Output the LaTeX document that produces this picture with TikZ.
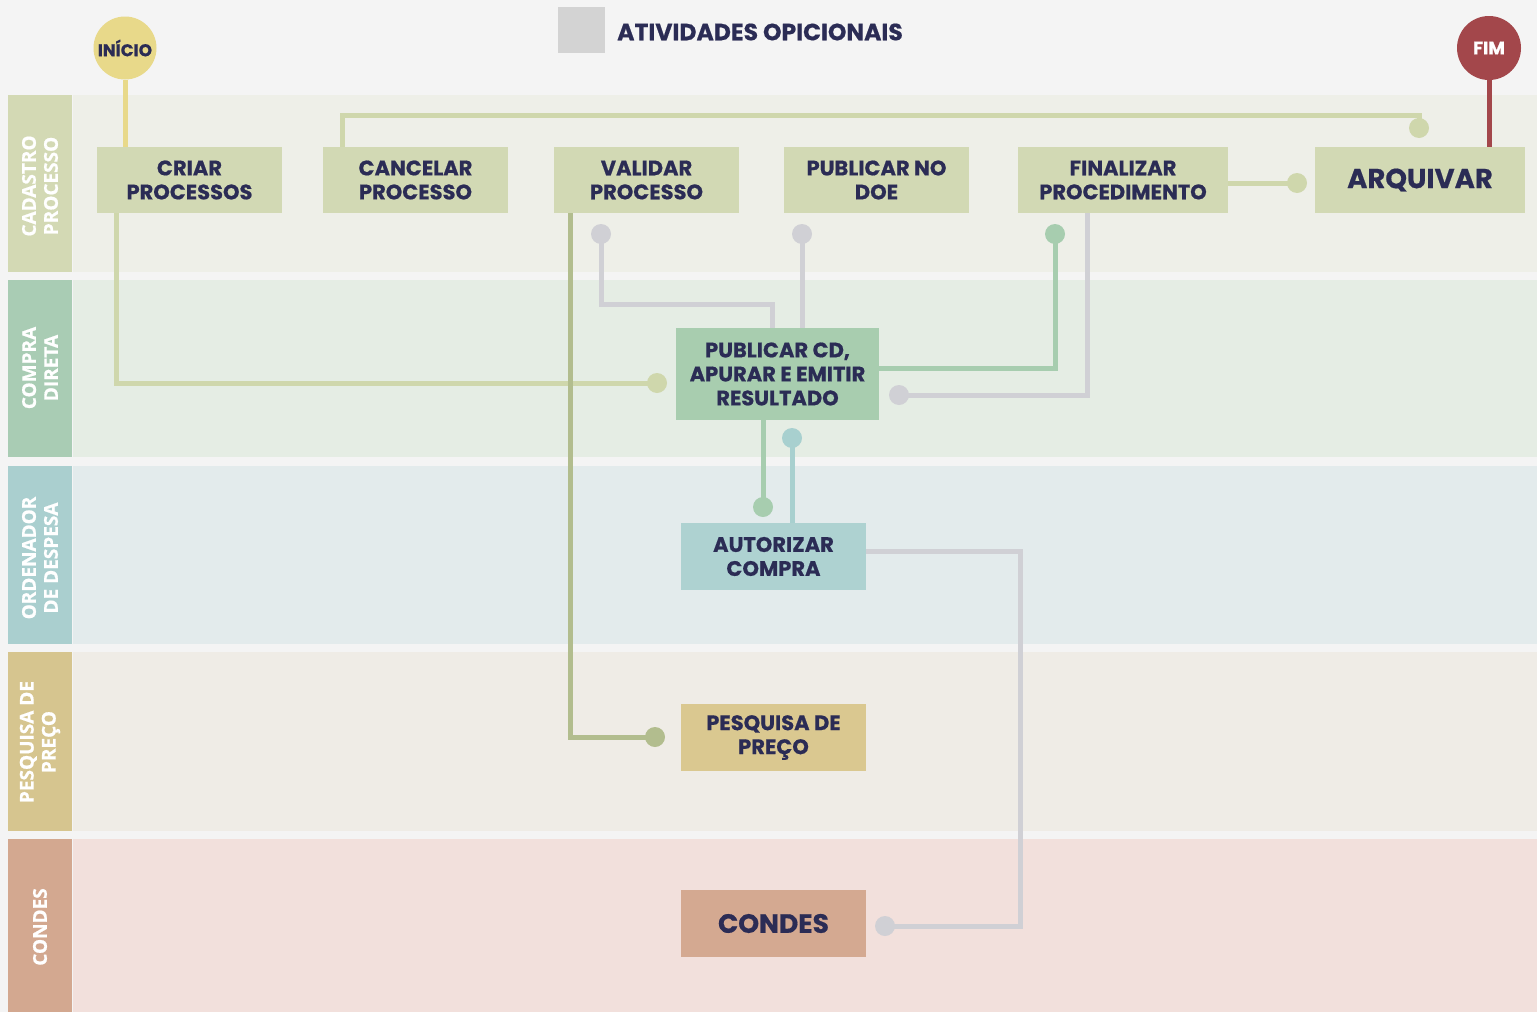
\documentclass[tikz,border=0pt]{standalone}
\usepackage{fontspec}
\setmainfont{Poppins}[BoldFeatures={FakeBold=0.6}]
\newfontfamily\lanefont{Open Sans}[BoldFeatures={FakeBold=0.8}]
\usetikzlibrary{calc}
\pgfdeclarelayer{lanes}\pgfdeclarelayer{wires}
\pgfsetlayers{lanes,wires,main}
\definecolor{bgc}{HTML}{F4F4F4}
\definecolor{laneAbg}{HTML}{EEEFE8}\definecolor{laneAlab}{HTML}{D3D9B4}
\definecolor{laneBbg}{HTML}{E5EDE4}\definecolor{laneBlab}{HTML}{A9CCB4}
\definecolor{laneCbg}{HTML}{E3EBEC}\definecolor{laneClab}{HTML}{AACFCF}
\definecolor{laneDbg}{HTML}{EFECE6}\definecolor{laneDlab}{HTML}{D6C58F}
\definecolor{laneEbg}{HTML}{F2E0DC}\definecolor{laneElab}{HTML}{D3A890}
\definecolor{fcad}{HTML}{D2D9B4}
\definecolor{fcd}{HTML}{A8CDAF}
\definecolor{faut}{HTML}{AED2D1}
\definecolor{fpesq}{HTML}{DAC890}
\definecolor{fcondes}{HTML}{D4A991}
\definecolor{txt}{HTML}{2B2C55}
\definecolor{cyel}{HTML}{E8D98A}
\definecolor{colive}{HTML}{CFD7AC}
\definecolor{cdolive}{HTML}{B2BD8E}
\definecolor{cgrey}{HTML}{D0D0D5}
\definecolor{cgreen}{HTML}{A7CDAF}
\definecolor{cblue}{HTML}{A8D0CF}
\definecolor{cred}{HTML}{A3474B}
\definecolor{legendgrey}{HTML}{D3D3D3}
\begin{document}
\begin{tikzpicture}[x=1pt,y=-1pt,
  box/.style={rectangle, inner sep=0pt, minimum width=185pt, minimum height=66pt, align=center,
    text=txt, font=\bfseries\fontsize{21}{24}\selectfont},
  lanelab/.style={rotate=90, align=center, text=white, font=\lanefont\bfseries\fontsize{19}{22}\selectfont},
  conn/.style={line width=5pt},
]
\useasboundingbox (0,0) rectangle (1537,1012);
\begin{pgfonlayer}{lanes}
\fill[bgc] (0,0) rectangle (1537,1012);
\fill[laneAbg] (73,95) rectangle (1537,272);  \fill[laneAlab] (8,95) rectangle (72,272);
\fill[laneBbg] (73,280) rectangle (1537,457); \fill[laneBlab] (8,280) rectangle (72,457);
\fill[laneCbg] (73,466) rectangle (1537,644); \fill[laneClab] (8,466) rectangle (72,644);
\fill[laneDbg] (73,652) rectangle (1537,831); \fill[laneDlab] (8,652) rectangle (72,831);
\fill[laneEbg] (73,839) rectangle (1537,1012); \fill[laneElab] (8,839) rectangle (72,1012);
\end{pgfonlayer}
\node[lanelab] (lA) at (40,186) {CADASTRO\\PROCESSO};
\node[lanelab] (lB) at (40,368) {COMPRA\\DIRETA};
\node[lanelab] (lC) at (40,558) {ORDENADOR\\DE DESPESA};
\node[lanelab] (lD) at (40,742) {PESQUISA DE\\PREÇO};
\node[lanelab] (lE) at (40,927) {CONDES};
% legend
\node[rectangle, fill=legendgrey, minimum width=47pt, minimum height=46pt, inner sep=0pt] (leg) at (581.5,30) {};
\node[anchor=west, text=txt, font=\bfseries\fontsize{23.5}{25}\selectfont, inner sep=0pt] (legt) at (617,32) {ATIVIDADES OPICIONAIS};
% nodes
\node[circle, fill=cyel, minimum size=63pt, inner sep=0pt, text=txt, font=\bfseries\fontsize{17}{18}\selectfont] (ini) at (125,48) {INÍCIO};
\node[circle, fill=cred, minimum size=64pt, inner sep=0pt, text=white, font=\bfseries\fontsize{18}{19}\selectfont] (fim) at (1489,48) {FIM};
\node[box, fill=fcad] (criar) at (189.5,180) {CRIAR\\PROCESSOS};
\node[box, fill=fcad] (cancelar) at (415.5,180) {CANCELAR\\PROCESSO};
\node[box, fill=fcad] (validar) at (646.5,180) {VALIDAR\\PROCESSO};
\node[box, fill=fcad] (doe) at (876.5,180) {PUBLICAR NO\\DOE};
\node[box, fill=fcad, minimum width=210pt] (final) at (1123,180) {FINALIZAR\\PROCEDIMENTO};
\node[box, fill=fcad, minimum width=210pt, font=\bfseries\fontsize{27.5}{29}\selectfont] (arq) at (1420,180) {ARQUIVAR};
\node[box, fill=fcd, minimum width=203pt, minimum height=92pt] (pubcd) at (777.5,374) {PUBLICAR CD,\\APURAR E EMITIR\\RESULTADO};
\node[box, fill=faut, minimum height=67pt] (aut) at (773.5,556.5) {AUTORIZAR\\COMPRA};
\node[box, fill=fpesq, minimum height=67pt] (pesq) at (773.5,737.5) {PESQUISA DE\\PREÇO};
\node[box, fill=fcondes, minimum height=67pt, font=\bfseries\fontsize{26.5}{28}\selectfont] (condes) at (773.5,923.5) {CONDES};
% dot coordinates
\coordinate (d1) at (657,383);
\coordinate (d2) at (1419,128);
\coordinate (d3) at (655,737);
\coordinate (d4) at (601,234);
\coordinate (d5) at (802,234);
\coordinate (d6) at (1055,234);
\coordinate (d7) at (899,395);
\coordinate (d8) at (1297,183);
\coordinate (d9) at (763,507);
\coordinate (d10) at (792,438);
\coordinate (d11) at (885,926);
\begin{pgfonlayer}{wires}
\draw[conn, cyel] (ini) -- (ini |- criar.north);
\draw[conn, cred] (fim) -- (fim |- arq.north);
\draw[conn, colive] (criar.south -| 116,0) -- (116,383) -- (d1);
\fill[colive] (d1) circle (10);
\draw[conn, colive] (cancelar.north -| 342,0) -- (342,115) -- (1419,115) -- (d2);
\fill[colive] (d2) circle (10);
\draw[conn, colive] (final.east |- d8) -- (d8);
\fill[colive] (d8) circle (10);
\draw[conn, cdolive] (validar.south -| 570,0) -- (570,737) -- (d3);
\fill[cdolive] (d3) circle (10);
\draw[conn, cgrey] (d4) -- (601,304) -- (772,304) -- (pubcd.north -| 772,0);
\fill[cgrey] (d4) circle (10);
\draw[conn, cgrey] (d5) -- (pubcd.north -| d5);
\fill[cgrey] (d5) circle (10);
\draw[conn, cgreen] (pubcd.east |- 0,368) -- (1055,368) -- (d6);
\fill[cgreen] (d6) circle (10);
\draw[conn, cgrey] (final.south -| 1087,0) -- (1087,395) -- (d7);
\fill[cgrey] (d7) circle (10);
\draw[conn, cgreen] (pubcd.south -| d9) -- (d9);
\fill[cgreen] (d9) circle (10);
\draw[conn, cblue] (aut.north -| d10) -- (d10);
\fill[cblue] (d10) circle (10);
\draw[conn, cgrey] (aut.east |- 0,551) -- (1020,551) -- (1020,926) -- (d11);
\fill[cgrey] (d11) circle (10);
\end{pgfonlayer}
\end{tikzpicture}
\end{document}
